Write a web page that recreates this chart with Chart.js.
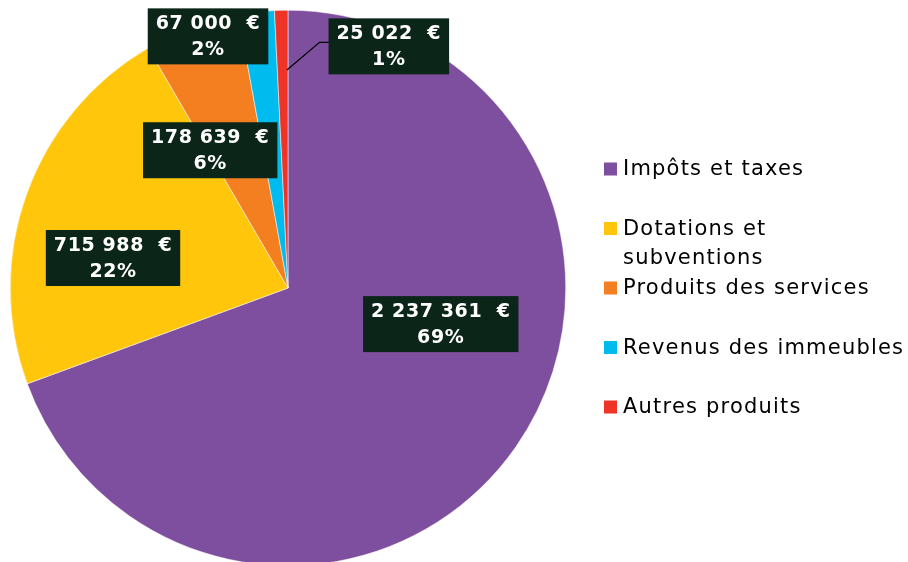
<!DOCTYPE html>
<html>
<head>
<meta charset="utf-8">
<script src="https://cdn.jsdelivr.net/npm/chart.js@4"></script>
<style>
  html, body { margin: 0; padding: 0; background: #fff; overflow: hidden; }
  #wrap { width: 908px; height: 576px; }
</style>
</head>
<body>
<div id="wrap"><canvas id="recettes" width="908" height="576"></canvas></div>
<script>
const categories = ['Impôts et taxes', 'Dotations et subventions', 'Produits des services', 'Revenus des immeubles', 'Autres produits'];
const legendLines = [['Impôts et taxes'], ['Dotations et', 'subventions'], ['Produits des services'], ['Revenus des immeubles'], ['Autres produits']];
const amounts = [2237361, 715988, 178639, 67000, 25022];
const colors = ['#7f4f9f', '#ffc60b', '#f47f21', '#00bcee', '#ee3426'];

// where each label box sits, as a fraction of the radius from the centre
const labelSpots = [[0.55, 0.13], [-0.63, -0.108], [-0.28, -0.496], [-0.288, -0.906], [0.363, -0.87]];

const total = amounts.reduce((a, b) => a + b, 0);
const fmt = v => String(v).replace(/\B(?=(\d{3})+(?!\d))/g, ' ') + '  €';

const labelBoxes = {
    id: 'labelBoxes',
    afterDatasetsDraw(chart) {
        const ctx = chart.ctx;
        const arcs = chart.getDatasetMeta(0).data;
        ctx.save();
        ctx.font = '600 19px "DejaVu Sans"';
        ctx.letterSpacing = '0.6px';
        arcs.forEach((arc, i) => {
            const r = arc.outerRadius;
            const cx = arc.x + labelSpots[i][0] * r;
            const cy = arc.y + labelSpots[i][1] * r;
            const line1 = fmt(amounts[i]);
            const line2 = Math.round(amounts[i] / total * 100) + '%';
            const w = ctx.measureText(line1).width + 16;
            const h = 56;
            ctx.fillStyle = '#0b2619';
            ctx.fillRect(cx - w / 2, cy - h / 2, w, h);
            ctx.fillStyle = '#ffffff';
            ctx.textAlign = 'center';
            ctx.textBaseline = 'middle';
            ctx.fillText(line1, cx, cy - 12);
            ctx.fillText(line2, cx, cy + 14);
            if (i === arcs.length - 1) {
                const a = arc.endAngle - 0.005;
                const sx = arc.x + Math.cos(a) * r * 0.785;
                const sy = arc.y + Math.sin(a) * r * 0.785;
                const left = cx - w / 2;
                ctx.strokeStyle = '#000';
                ctx.lineWidth = 1.2;
                ctx.beginPath();
                ctx.moveTo(sx, sy);
                ctx.lineTo(left - 9, cy - 4);
                ctx.lineTo(left, cy - 4);
                ctx.stroke();
            }
        });
        ctx.restore();
    }
};

const sideLegend = {
    id: 'sideLegend',
    afterDraw(chart) {
        const ctx = chart.ctx;
        const x0 = chart.chartArea.right + 38;
        ctx.save();
        ctx.font = '21px "DejaVu Sans"';
        ctx.letterSpacing = '1.2px';
        ctx.textBaseline = 'middle';
        ctx.textAlign = 'left';
        legendLines.forEach((lines, i) => {
            const y = 169 + i * 59.5;
            ctx.fillStyle = colors[i];
            ctx.fillRect(x0, y - 6.5, 13, 13);
            ctx.fillStyle = '#000';
            lines.forEach((t, k) => ctx.fillText(t, x0 + 19, y + 1 + k * 29));
        });
        ctx.restore();
    }
};

new Chart(document.getElementById('recettes').getContext('2d'), {
    type: 'pie',
    plugins: [labelBoxes, sideLegend],
    data: {
        labels: categories,
        datasets: [{
            data: amounts,
            backgroundColor: colors,
            borderColor: '#ffffff',
            borderWidth: 0.5
        }]
    },
    options: {
        responsive: false,
        animation: false,
        layout: { padding: { left: 10, right: 342, top: 10, bottom: 10 } },
        plugins: {
            legend: { display: false },
            tooltip: { enabled: false }
        }
    }
});
</script>
</body>
</html>
